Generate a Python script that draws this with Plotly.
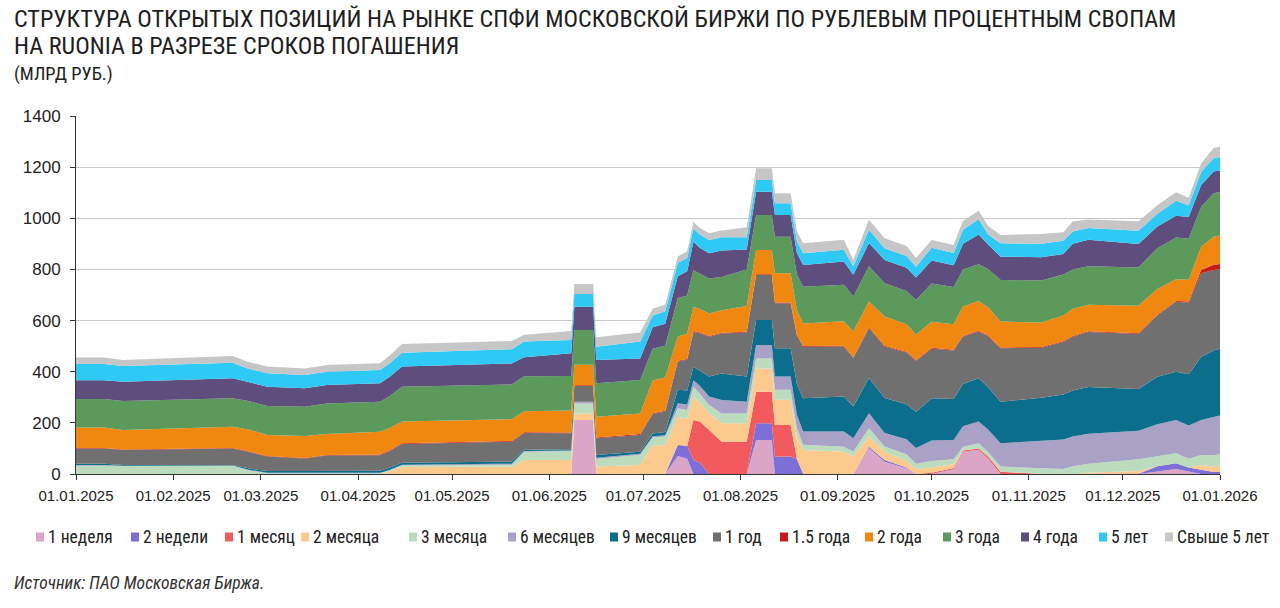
import plotly.graph_objects as go

dates = [
    "2025-01-01", "2025-01-10", "2025-01-16", "2025-02-05", "2025-02-20", "2025-02-25",
    "2025-03-03", "2025-03-15", "2025-03-22", "2025-04-08", "2025-04-11", "2025-04-15",
    "2025-05-15", "2025-05-20", "2025-05-24", "2025-06-06", "2025-06-08", "2025-06-09",
    "2025-06-15", "2025-06-16", "2025-06-30", "2025-07-04", "2025-07-08", "2025-07-12",
    "2025-07-15", "2025-07-17", "2025-07-19", "2025-07-22", "2025-07-26", "2025-08-03",
    "2025-08-06", "2025-08-11", "2025-08-12", "2025-08-17", "2025-08-19", "2025-08-21",
    "2025-09-03", "2025-09-06", "2025-09-11", "2025-09-16", "2025-09-23", "2025-09-26",
    "2025-10-01", "2025-10-08", "2025-10-11", "2025-10-16", "2025-10-19", "2025-10-23",
    "2025-11-05", "2025-11-12", "2025-11-15", "2025-11-20", "2025-12-06", "2025-12-12",
    "2025-12-18", "2025-12-22", "2025-12-26", "2025-12-30", "2026-01-01",
]

w1 = [0, 0, 0, 0, 0, 0, 0, 0, 0, 0, 0, 0, 0, 0, 0, 0, 0, 211, 211, 0, 0, 0, 0, 70, 60, 0, 0, 0, 0, 0,
      133, 133, 0, 0, 0, 0, 0, 0, 102, 48, 22, 0, 0, 20, 87, 95, 60, 0, 0, 0, 0, 0, 0, 10, 20, 10, 0, 0, 0]
w2 = [0, 0, 0, 0, 0, 0, 0, 0, 0, 0, 0, 0, 0, 0, 0, 0, 0, 0, 0, 0, 0, 0, 0, 43, 50, 55, 45, 0, 0, 0,
      65, 65, 68, 68, 60, 0, 0, 0, 5, 7, 3, 0, 0, 0, 0, 0, 0, 0, 0, 0, 0, 0, 0, 20, 22, 15, 15, 8, 10]
m1 = [0, 0, 0, 0, 0, 0, 0, 0, 0, 0, 0, 0, 0, 0, 0, 0, 0, 0, 0, 0, 0, 0, 0, 0, 0, 156, 160, 172, 126, 126,
      124, 124, 124, 124, 0, 0, 0, 0, 0, 0, 0, 0, 5, 3, 5, 5, 8, 9, 0, 0, 0, 0, 2, 0, 0, 0, 0, 0, 0]
m2 = [0, 0, 0, 0, 0, 0, 0, 0, 0, 0, 10, 28, 28, 28, 55, 55, 55, 26, 26, 29, 35, 110, 112, 111, 105, 91, 75, 65, 72, 72,
      91, 91, 98, 98, 90, 94, 87, 68, 39, 33, 26, 20, 20, 15, 0, 0, 0, 0, 0, 0, 0, 5, 10, 0, 0, 0, 20, 20, 22]
m3 = [33, 33, 31, 32, 32, 15, 3, 3, 3, 3, 4, 5, 8, 8, 32, 35, 35, 39, 39, 30, 40, 33, 35, 33, 35, 39, 35, 33, 39, 39,
      39, 39, 39, 39, 30, 20, 20, 20, 33, 20, 26, 20, 26, 20, 15, 20, 18, 20, 25, 20, 30, 35, 46, 40, 39, 35, 39, 45, 45]
m6 = [2, 2, 1, 1, 1, 2, 2, 2, 2, 2, 2, 3, 4, 4, 3, 2, 2, 7, 7, 5, 4, 5, 5, 20, 22, 26, 30, 33, 52, 46,
      52, 52, 52, 52, 52, 52, 59, 52, 59, 52, 59, 62, 80, 75, 80, 85, 88, 91, 104, 115, 117, 117, 111, 125, 130, 130, 137, 150, 152]
m9 = [5, 5, 3, 3, 2, 5, 7, 7, 7, 8, 8, 8, 8, 8, 5, 5, 5, 0, 0, 10, 8, 10, 12, 52, 55, 52, 60, 78, 104, 98,
      98, 98, 111, 111, 120, 130, 137, 124, 137, 137, 137, 140, 165, 160, 165, 169, 165, 163, 169, 176, 180, 183, 163, 185, 189, 200, 248, 260, 262]
y1 = [60, 60, 59, 60, 65, 65, 56, 49, 60, 60, 65, 73, 78, 78, 65, 62, 62, 61, 61, 66, 66, 77, 80, 111, 120, 137, 145, 156, 156, 172,
      176, 176, 176, 176, 190, 202, 196, 189, 196, 202, 202, 200, 195, 190, 185, 183, 200, 209, 196, 205, 210, 215, 215, 240, 274, 280, 326, 315, 310]
y15 = [2, 2, 2, 2, 2, 2, 2, 2, 2, 3, 3, 3, 3, 3, 3, 3, 3, 3, 3, 3, 3, 3, 3, 3, 3, 3, 3, 3, 3, 3,
       3, 3, 3, 3, 3, 3, 3, 3, 3, 3, 3, 3, 3, 3, 3, 3, 3, 3, 3, 3, 3, 3, 3, 3, 3, 5, 13, 20, 20]
y2 = [80, 80, 76, 80, 83, 85, 83, 86, 82, 89, 87, 85, 85, 85, 82, 86, 86, 80, 80, 81, 81, 128, 130, 95, 98, 95, 92, 88, 88, 101,
      95, 95, 114, 114, 95, 88, 95, 101, 101, 114, 108, 100, 101, 100, 115, 117, 110, 101, 95, 101, 105, 104, 108, 100, 85, 85, 91, 110, 112]
y3 = [111, 111, 113, 114, 111, 111, 113, 114, 120, 118, 125, 136, 134, 136, 137, 135, 135, 136, 136, 131, 131, 124, 125, 150, 150, 143, 140, 137, 130, 143,
      137, 137, 143, 143, 140, 143, 143, 137, 137, 130, 130, 135, 150, 145, 145, 143, 150, 163, 165, 160, 155, 150, 150, 160, 163, 160, 156, 170, 170]
y4 = [74, 74, 76, 77, 78, 75, 75, 72, 72, 72, 75, 79, 81, 82, 75, 89, 89, 91, 91, 91, 84, 84, 86, 85, 95, 111, 100, 98, 104, 78,
      91, 91, 85, 85, 85, 85, 91, 85, 91, 91, 91, 88, 90, 85, 100, 117, 95, 91, 91, 80, 100, 104, 91, 85, 85, 85, 85, 85, 85]
y5 = [63, 63, 61, 61, 61, 52, 53, 52, 52, 52, 53, 54, 56, 56, 61, 52, 52, 50, 50, 52, 66, 46, 48, 52, 52, 52, 52, 52, 52, 48,
      46, 46, 46, 46, 46, 46, 46, 33, 52, 46, 46, 42, 50, 48, 55, 59, 40, 52, 52, 52, 48, 46, 52, 50, 59, 45, 52, 52, 52]
y5p = [26, 26, 24, 25, 26, 26, 26, 26, 26, 26, 30, 34, 32, 32, 27, 35, 35, 39, 39, 37, 35, 26, 27, 26, 26, 26, 26, 26, 26, 39,
       46, 46, 39, 39, 39, 39, 39, 26, 39, 39, 39, 35, 30, 32, 35, 33, 33, 33, 39, 33, 39, 33, 37, 33, 33, 30, 33, 40, 40]

series_names = ["1 неделя", "2 недели", "1 месяц", "2 месяца", "3 месяца", "6 месяцев", "9 месяцев",
                "1 год", "1.5 года", "2 года", "3 года", "4 года", "5 лет", "Свыше 5 лет"]
series_values = [w1, w2, m1, m2, m3, m6, m9, y1, y15, y2, y3, y4, y5, y5p]
colors = ["#dba5c6", "#7c6fd8", "#f25a5e", "#fdca8d", "#bcdcbe", "#a9a1c6", "#0a6e8c",
          "#707070", "#c8191b", "#f0870e", "#5b9a5b", "#5e4e7e", "#2fc9f5", "#c6c6c6"]

for s in series_values:
    assert len(s) == len(dates), len(s)

fig = go.Figure()
for name, vals, col in zip(series_names, series_values, colors):
    fig.add_trace(go.Scatter(
        x=dates, y=vals, name=name, mode="lines", stackgroup="one",
        line=dict(width=0, color=col), fillcolor=col, showlegend=False,
        hoverinfo="skip",
    ))

# plot area in pixels
L, R, T, B = 76, 1220, 116, 474
W, H = R - L, B - T


def px(x):
    return (x - L) / W


def py(y):
    return (B - y) / H


NARROW = "Liberation Sans Narrow, Roboto Condensed, Arial Narrow, sans-serif"
TXT = "#1e1e1e"

annotations = [
    dict(text="СТРУКТУРА ОТКРЫТЫХ ПОЗИЦИЙ НА РЫНКЕ СПФИ МОСКОВСКОЙ БИРЖИ ПО РУБЛЕВЫМ ПРОЦЕНТНЫМ СВОПАМ",
         x=px(12), y=py(19), xref="paper", yref="paper", xanchor="left", yanchor="middle",
         showarrow=False, font=dict(family=NARROW, size=24.2, color=TXT)),
    dict(text="НА RUONIA В РАЗРЕЗЕ СРОКОВ ПОГАШЕНИЯ",
         x=px(12), y=py(46), xref="paper", yref="paper", xanchor="left", yanchor="middle",
         showarrow=False, font=dict(family=NARROW, size=24.2, color=TXT)),
    dict(text="(МЛРД РУБ.)", x=px(12), y=py(74), xref="paper", yref="paper",
         xanchor="left", yanchor="middle", showarrow=False,
         font=dict(family=NARROW, size=18.5, color=TXT)),
    dict(text="<i>Источник: ПАО Московская Биржа.</i>", x=px(12), y=py(583), xref="paper", yref="paper",
         xanchor="left", yanchor="middle", showarrow=False,
         font=dict(family=NARROW, size=17.5, color="#333333")),
]

legend_marker_x = [36, 131, 225, 301, 409, 508, 610, 713, 780, 865, 943, 1021, 1099, 1165]
legend_y = 537
shapes = []
for name, col, mx in zip(series_names, colors, legend_marker_x):
    shapes.append(dict(type="rect", xref="paper", yref="paper",
                       x0=px(mx), x1=px(mx + 8), y0=py(legend_y + 4.5), y1=py(legend_y - 4.5),
                       fillcolor=col, line=dict(width=0)))
    annotations.append(dict(text=name, x=px(mx + 10), y=py(legend_y), xref="paper", yref="paper",
                            xanchor="left", yanchor="middle", showarrow=False,
                            font=dict(family=NARROW, size=17.5, color="#222222")))

fig.update_layout(
    width=1280, height=608,
    margin=dict(l=L, r=1280 - R, t=T, b=608 - B, pad=0),
    paper_bgcolor="white", plot_bgcolor="white",
    showlegend=False,
    annotations=annotations,
    shapes=shapes,
    font=dict(family="Liberation Sans, Arial, sans-serif", size=15, color="#222222"),
)
fig.update_xaxes(
    type="date", range=["2025-01-01", "2026-01-01"],
    tick0="2025-01-01", dtick="M1", tickformat="%d.%m.%Y",
    showline=True, linecolor="#333333", linewidth=1,
    ticks="outside", ticklen=5, tickcolor="#333333",
    showgrid=False, zeroline=False, ticklabelstandoff=3,
    tickfont=dict(size=15, color="#222222"),
)
fig.update_yaxes(
    range=[0, 1400], dtick=200, tick0=0,
    showline=True, linecolor="#333333", linewidth=1,
    ticks="outside", ticklen=5, tickcolor="#333333",
    showgrid=True, gridcolor="#c8c8c8", gridwidth=1, zeroline=False,
    ticklabelstandoff=6,
    tickfont=dict(size=17, color="#222222"),
)

fig.write_html("out.html", config={"displayModeBar": False},
               post_script="document.body.style.margin='0px';document.body.style.padding='0px';")
